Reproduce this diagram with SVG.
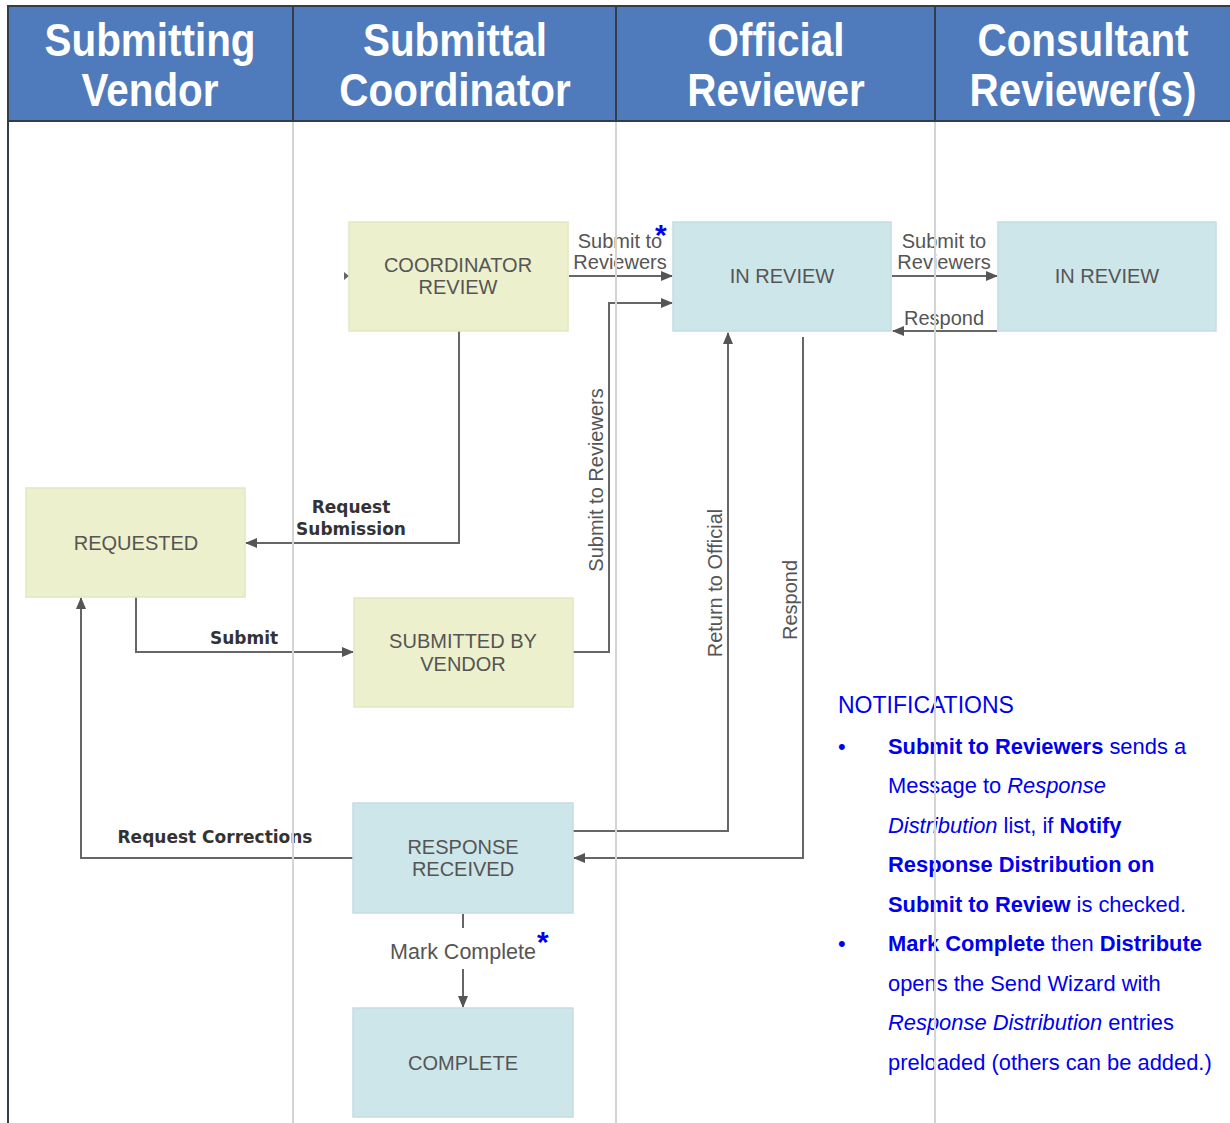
<svg xmlns="http://www.w3.org/2000/svg" width="1230" height="1123" viewBox="0 0 1230 1123">
<style>
.hdr{font-family:"Liberation Sans",Arial,sans-serif;font-weight:bold;font-size:47px;fill:#fff;text-anchor:middle}
.nt{font-family:"Liberation Sans",Arial,sans-serif;font-size:20px;fill:#555;text-anchor:middle}
.lb{font-family:"Liberation Sans",Arial,sans-serif;font-size:20px;fill:#555;text-anchor:middle}
.bl{font-family:"DejaVu Sans",Verdana,sans-serif;font-weight:bold;font-size:17px;fill:#333;text-anchor:middle}
.y{fill:#ecf0cc;stroke:#e2e8c0;stroke-width:1.5}
.b{fill:#cde6e9;stroke:#c4dde1;stroke-width:1.5}
.c{fill:none;stroke:#666;stroke-width:2}
.lane{stroke:#d4d4d4;stroke-width:2}
.ast{font-family:"Liberation Sans",Arial,sans-serif;font-weight:bold;font-size:30px;fill:#0000ee}
.n{font-family:"Liberation Sans",Arial,sans-serif;font-size:21.9px;fill:#0000ee}
.n .s{font-weight:bold}
.n .i{font-style:italic}
</style>
<defs>
<marker id="ah" viewBox="0 0 12 10" refX="11" refY="5" markerWidth="12" markerHeight="10" markerUnits="userSpaceOnUse" orient="auto">
<path d="M0,0 L12,5 L0,10 z" fill="#555"/>
</marker>
</defs>
<rect x="0" y="0" width="1230" height="1123" fill="#fff"/>
<g id="header">
<rect x="8" y="6" width="1230" height="115" fill="#4f7bbd" stroke="#333d47" stroke-width="2"/>
<line x1="293" y1="6" x2="293" y2="121" stroke="#333d47" stroke-width="2"/>
<line x1="616" y1="6" x2="616" y2="121" stroke="#333d47" stroke-width="2"/>
<line x1="935" y1="6" x2="935" y2="121" stroke="#333d47" stroke-width="2"/>
<text class="hdr" transform="translate(150,56) scale(0.86,1)">Submitting</text>
<text class="hdr" transform="translate(150,106) scale(0.86,1)">Vendor</text>
<text class="hdr" transform="translate(455,56) scale(0.86,1)">Submittal</text>
<text class="hdr" transform="translate(455,106) scale(0.86,1)">Coordinator</text>
<text class="hdr" transform="translate(776,56) scale(0.86,1)">Official</text>
<text class="hdr" transform="translate(776,106) scale(0.86,1)">Reviewer</text>
<text class="hdr" transform="translate(1083,56) scale(0.86,1)">Consultant</text>
<text class="hdr" transform="translate(1083,106) scale(0.86,1)">Reviewer(s)</text>
</g>
<line x1="8" y1="121" x2="8" y2="1123" stroke="#333d47" stroke-width="2"/>

<g id="connectors">
<line class="c" x1="569" y1="276" x2="672" y2="276" marker-end="url(#ah)"/>
<polyline class="c" points="573,652 609,652 609,303 672,303" marker-end="url(#ah)"/>
<line class="c" x1="892" y1="276" x2="997" y2="276" marker-end="url(#ah)"/>
<line class="c" x1="997" y1="331" x2="893" y2="331" marker-end="url(#ah)"/>
<polyline class="c" points="459,331 459,543 246,543" marker-end="url(#ah)"/>
<polyline class="c" points="136,597 136,652 353,652" marker-end="url(#ah)"/>
<polyline class="c" points="353,858 81,858 81,598" marker-end="url(#ah)"/>
<polyline class="c" points="573,831 728,831 728,333" marker-end="url(#ah)"/>
<polyline class="c" points="803,337 803,858 574,858" marker-end="url(#ah)"/>
<line class="c" x1="463" y1="914" x2="463" y2="928"/>
<line class="c" x1="463" y1="969" x2="463" y2="1007" marker-end="url(#ah)"/>
<path d="M344,272 L349,276 L344,280 z" fill="#666"/>
<text class="lb" x="620" y="248">Submit to</text>
<text class="lb" x="620" y="269">Reviewers</text>
<text class="ast" x="655" y="245">*</text>
<text class="lb" x="944" y="248">Submit to</text>
<text class="lb" x="944" y="269">Reviewers</text>
<text class="lb" x="944" y="325">Respond</text>
<text class="lb" transform="translate(603,480) rotate(-90)">Submit to Reviewers</text>
<text class="lb" transform="translate(722,583) rotate(-90)">Return to Official</text>
<text class="lb" transform="translate(797,600) rotate(-90)">Respond</text>
<text class="bl" x="351" y="513">Request</text>
<text class="bl" x="351" y="535">Submission</text>
<text class="bl" x="244" y="644">Submit</text>
<text class="bl" x="215" y="843">Request Corrections</text>
<text class="lb" x="463" y="959" style="font-size:21.5px">Mark Complete</text>
<text class="ast" x="537" y="952">*</text>
</g>

<g id="coordinator-review"><rect class="y" x="349" y="222" width="219" height="109"/><text class="nt" x="458" y="272">COORDINATOR</text><text class="nt" x="458" y="294">REVIEW</text></g>
<g id="in-review-official"><rect class="b" x="673" y="222" width="218" height="109"/><text class="nt" x="782" y="283">IN REVIEW</text></g>
<g id="in-review-consultant"><rect class="b" x="998" y="222" width="218" height="109"/><text class="nt" x="1107" y="283">IN REVIEW</text></g>
<g id="requested"><rect class="y" x="26" y="488" width="219" height="109"/><text class="nt" x="136" y="550">REQUESTED</text></g>
<g id="submitted-by-vendor"><rect class="y" x="354" y="598" width="219" height="109"/><text class="nt" x="463" y="648">SUBMITTED BY</text><text class="nt" x="463" y="671">VENDOR</text></g>
<g id="response-received"><rect class="b" x="353" y="803" width="220" height="110"/><text class="nt" x="463" y="854">RESPONSE</text><text class="nt" x="463" y="876">RECEIVED</text></g>
<g id="complete"><rect class="b" x="353" y="1008" width="220" height="109"/><text class="nt" x="463" y="1070">COMPLETE</text></g>

<g id="notifications">
<text class="n" x="838" y="713" style="font-size:23px">NOTIFICATIONS</text>
<text class="n" x="838" y="754">•</text>
<text class="n" x="888" y="754"><tspan class="s">Submit to Reviewers</tspan> sends a</text>
<text class="n" x="888" y="793">Message to <tspan class="i">Response</tspan></text>
<text class="n" x="888" y="833"><tspan class="i">Distribution</tspan> list, if <tspan class="s">Notify</tspan></text>
<text class="n" x="888" y="872"><tspan class="s">Response Distribution on</tspan></text>
<text class="n" x="888" y="912"><tspan class="s">Submit to Review</tspan> is checked.</text>
<text class="n" x="838" y="951">•</text>
<text class="n" x="888" y="951"><tspan class="s">Mark Complete</tspan> then <tspan class="s">Distribute</tspan></text>
<text class="n" x="888" y="991">opens the Send Wizard with</text>
<text class="n" x="888" y="1030"><tspan class="i">Response Distribution</tspan> entries</text>
<text class="n" x="888" y="1070">preloaded (others can be added.)</text>
</g>

<g id="lanes">
<line class="lane" x1="293" y1="122" x2="293" y2="1123"/>
<line class="lane" x1="616" y1="122" x2="616" y2="1123"/>
<line class="lane" x1="935" y1="122" x2="935" y2="1123"/>
</g>
</svg>
